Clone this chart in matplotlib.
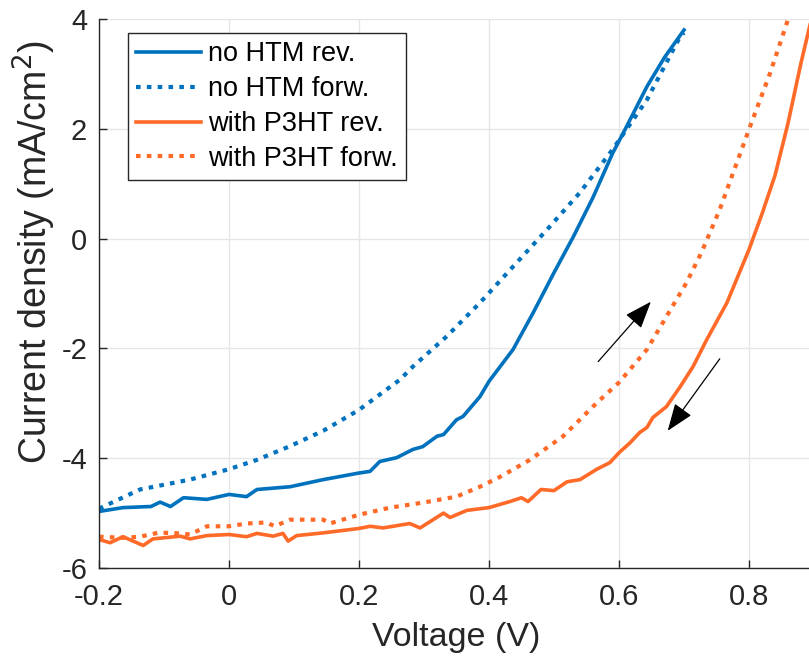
import matplotlib
matplotlib.use("Agg")
import matplotlib.pyplot as plt

plt.rcParams['font.family'] = ['Liberation Sans', 'DejaVu Sans']
plt.rcParams['axes.unicode_minus'] = False

# no HTM, reverse scan
v_nohtm_rev = [-0.2, -0.163, -0.12, -0.106, -0.09, -0.07, -0.034, 0.0, 0.027, 0.043, 0.094, 0.145,
               0.2, 0.217, 0.232, 0.258, 0.283, 0.298, 0.32, 0.33, 0.35, 0.36, 0.386, 0.4, 0.437,
               0.468, 0.5, 0.53, 0.56, 0.59, 0.609, 0.643, 0.67, 0.7]
j_nohtm_rev = [-4.97, -4.9, -4.88, -4.8, -4.88, -4.72, -4.75, -4.66, -4.7, -4.57, -4.52, -4.39,
               -4.27, -4.24, -4.06, -3.99, -3.84, -3.79, -3.6, -3.57, -3.3, -3.24, -2.88, -2.6, -2.02,
               -1.35, -0.62, 0.04, 0.75, 1.55, 1.98, 2.77, 3.3, 3.8]

# no HTM, forward scan
v_nohtm_fw = [-0.2, -0.137, -0.06, 0.0, 0.043, 0.094, 0.145, 0.2, 0.232, 0.263, 0.283, 0.335,
              0.386, 0.437, 0.489, 0.54, 0.59, 0.643, 0.694, 0.7]
j_nohtm_fw = [-4.92, -4.57, -4.39, -4.2, -4.03, -3.78, -3.5, -3.12, -2.84, -2.57, -2.33, -1.78,
              -1.17, -0.51, 0.16, 0.84, 1.62, 2.53, 3.68, 3.75]

# with P3HT, reverse scan
v_p3ht_rev = [-0.2, -0.183, -0.163, -0.132, -0.117, -0.075, -0.06, -0.034, 0.0, 0.027, 0.043, 0.068,
              0.083, 0.091, 0.104, 0.145, 0.2, 0.217, 0.237, 0.278, 0.294, 0.33, 0.34, 0.366, 0.4,
              0.432, 0.45, 0.46, 0.48, 0.5, 0.52, 0.54, 0.566, 0.586, 0.6, 0.617, 0.632, 0.643,
              0.652, 0.673, 0.694, 0.714, 0.735, 0.766, 0.8, 0.82, 0.84, 0.86, 0.88, 0.9]
j_p3ht_rev = [-5.48, -5.54, -5.43, -5.59, -5.47, -5.42, -5.47, -5.41, -5.39, -5.43, -5.37, -5.42,
              -5.37, -5.51, -5.41, -5.36, -5.28, -5.24, -5.27, -5.19, -5.27, -5.0, -5.08, -4.95, -4.9,
              -4.79, -4.72, -4.79, -4.57, -4.59, -4.43, -4.39, -4.2, -4.08, -3.9, -3.72, -3.53, -3.44,
              -3.26, -3.06, -2.7, -2.33, -1.84, -1.17, -0.2, 0.45, 1.15, 2.1, 3.2, 4.2]

# with P3HT, forward scan
v_p3ht_fw = [-0.2, -0.163, -0.137, -0.11, -0.086, -0.06, -0.034, 0.0, 0.027, 0.058, 0.07, 0.094,
             0.145, 0.155, 0.2, 0.248, 0.298, 0.35, 0.386, 0.417, 0.463, 0.514, 0.566, 0.6, 0.643,
             0.673, 0.704, 0.727, 0.755, 0.8, 0.832, 0.86]
j_p3ht_fw = [-5.43, -5.45, -5.43, -5.36, -5.36, -5.39, -5.24, -5.24, -5.19, -5.17, -5.24, -5.12,
             -5.12, -5.19, -5.03, -4.9, -4.81, -4.7, -4.52, -4.34, -4.03, -3.6, -2.99, -2.62, -2.02,
             -1.42, -0.8, -0.25, 0.53, 1.99, 3.0, 3.99]

labels = ['no HTM rev.', 'no HTM forw.', 'with P3HT rev.', 'with P3HT forw.']
xticks = [-0.2, 0, 0.2, 0.4, 0.6, 0.8]
xticklabels = ['-0.2', '0', '0.2', '0.4', '0.6', '0.8']
yticks = [-6, -4, -2, 0, 2, 4]

blue = '#0072BD'
orange = '#FF6A28'
dots = (0, (1.1, 1.5))
txt = '#262626'

fig = plt.figure(figsize=(8.09, 6.61), dpi=100)
ax = fig.add_axes([99/809, 1-568/661, 715/809, 549/661])

ax.plot(v_nohtm_rev, j_nohtm_rev, color=blue, lw=2.6, label=labels[0])
ax.plot(v_nohtm_fw, j_nohtm_fw, color=blue, lw=3.0, ls=dots, label=labels[1])
ax.plot(v_p3ht_rev, j_p3ht_rev, color=orange, lw=2.6, label=labels[2])
ax.plot(v_p3ht_fw, j_p3ht_fw, color=orange, lw=3.0, ls=dots, label=labels[3])

arrow_style = dict(arrowstyle='-|>,head_length=0.85,head_width=0.32', color='k', lw=0.9,
                   mutation_scale=20, shrinkA=0, shrinkB=0)
ax.annotate('', xy=(0.649, -1.15), xytext=(0.568, -2.24), arrowprops=arrow_style)
ax.annotate('', xy=(0.675, -3.5), xytext=(0.755, -2.19), arrowprops=arrow_style)

ax.set_xlim(-0.2, 0.9)
ax.set_ylim(-6, 4)
ax.set_xticks(xticks)
ax.set_xticklabels(xticklabels)
ax.set_yticks(yticks)
ax.grid(True, color='#e6e6e6', lw=1)
ax.set_axisbelow(True)
for s in ['top', 'right']:
    ax.spines[s].set_visible(False)
for s in ['left', 'bottom']:
    ax.spines[s].set_color(txt)
    ax.spines[s].set_linewidth(1)
ax.tick_params(direction='in', length=6, width=1, color=txt, labelsize=21, labelcolor=txt)
ax.tick_params(axis='x', pad=11)
ax.tick_params(axis='y', pad=8.5)
ax.set_xlabel('Voltage (V)', fontsize=24.5, color=txt, labelpad=8)
ax.set_ylabel('Current density (mA/cm$^2$)', fontsize=27, color=txt)
ax.yaxis.set_label_coords(-0.058, 0.576)

leg = ax.legend(loc='upper left', bbox_to_anchor=((128-99)/715, (568-33)/549), fontsize=19.5,
                frameon=True, fancybox=False, edgecolor=txt, framealpha=1,
                handlelength=2.4, handletextpad=0.25, borderpad=0.3, labelspacing=0.33,
                borderaxespad=0)
leg.get_frame().set_linewidth(1)

fig.savefig('out.png', dpi=100)
